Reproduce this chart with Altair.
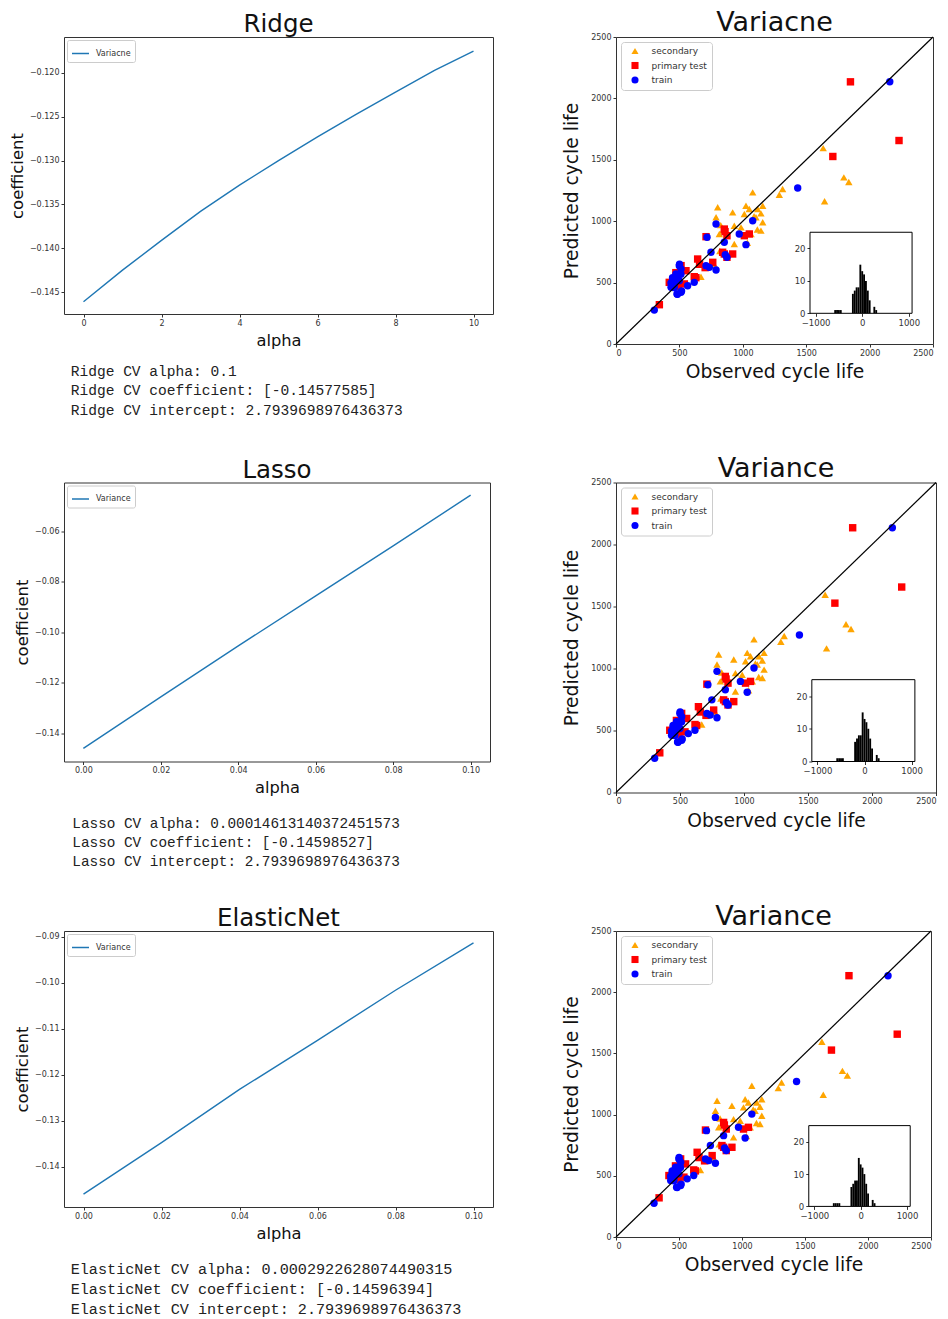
import altair as alt
import pandas as pd

# ---------------- line panels (coefficient vs alpha) ----------------
ridge_alpha = [0, 1, 2, 3, 4, 5, 6, 7, 8, 9, 10]
ridge_coef = [-0.1461, -0.1425, -0.1391, -0.1358, -0.1328, -0.1300, -0.1273, -0.1247, -0.1222,
              -0.1197, -0.1175]
lasso_alpha = [0.0, 0.02, 0.04, 0.06, 0.08, 0.10]
lasso_coef = [-0.1459, -0.1255, -0.1053, -0.0855, -0.0657, -0.0456]
enet_alpha = [0.0, 0.02, 0.04, 0.06, 0.08, 0.10]
enet_coef = [-0.1460, -0.1348, -0.1232, -0.1125, -0.1016, -0.0913]

ridge_ticks_x = [0, 2, 4, 6, 8, 10]
small_ticks_x = [0.0, 0.02, 0.04, 0.06, 0.08, 0.10]
ridge_ticks_y = [-0.145, -0.140, -0.135, -0.130, -0.125, -0.120]
lasso_ticks_y = [-0.14, -0.12, -0.10, -0.08, -0.06]
enet_ticks_y = [-0.14, -0.13, -0.12, -0.11, -0.10, -0.09]

ridge_text = ["Ridge CV alpha: 0.1",
              "Ridge CV coefficient: [-0.14577585]",
              "Ridge CV intercept: 2.7939698976436373"]
lasso_text = ["Lasso CV alpha: 0.00014613140372451573",
              "Lasso CV coefficient: [-0.14598527]",
              "Lasso CV intercept: 2.7939698976436373"]
enet_text = ["ElasticNet CV alpha: 0.0002922628074490315",
             "ElasticNet CV coefficient: [-0.14596394]",
             "ElasticNet CV intercept: 2.7939698976436373"]

# ---------------- scatter (observed vs predicted cycle life) ----------------
groups = ["secondary", "primary test", "train"]
group_colors = ["orange", "#ff0000", "#0000ff"]
group_shapes = ["triangle-up", "square", "circle"]

secondary_obs = [1634, 1645, 1797, 1836, 1314, 1288, 1078, 802, 789, 920, 1025, 1051, 1012, 1117,
                 1157, 1143, 1104, 1157, 933, 986, 841, 815, 1065, 1143, 933, 1036, 819, 774, 670,
                 826, 1089, 1115]
secondary_pred = [1595, 1162, 1357, 1319, 1262, 1216, 1235, 1113, 1032, 1072, 1126, 1099, 1059, 1099,
                  1126, 1064, 1032, 991, 963, 950, 923, 896, 896, 923, 814, 824, 757, 649, 548,
                  968, 1041, 932]
primary_obs = [1849, 2232, 1710, 342, 710, 854, 875, 1051, 1012, 920, 854, 875, 644, 763, 841, 659,
               703, 617, 552, 513, 420, 539, 491, 472, 630, 860]
primary_pred = [2135, 1657, 1527, 320, 874, 936, 882, 896, 882, 733, 733, 706, 692, 665, 747, 649,
                622, 548, 597, 638, 502, 489, 470, 581, 540, 915]
train_obs = [2159, 1433, 302, 789, 718, 854, 972, 1025, 1078, 749, 862, 875, 710, 736, 789, 499,
             513, 473, 447, 434, 460, 499, 565, 617, 481, 513, 434, 483, 459, 512, 501, 446, 485, 517]
train_pred = [2135, 1270, 276, 977, 869, 828, 896, 809, 1004, 747, 727, 706, 638, 624, 603, 638,
              611, 570, 529, 497, 489, 516, 475, 502, 407, 421, 462, 540, 459, 568, 649, 540, 405, 432]

axis_ticks_cycle = [0, 500, 1000, 1500, 2000, 2500]
diag_vals = [0, 2500]

# ---------------- inset histogram of residuals ----------------
hist_lo = [-600, -560, -520, -480, -220, -180, -140, -100, -60, -20, 20, 60, 100, 140, 240, 280]
hist_hi = [-560, -520, -480, -440, -180, -140, -100, -60, -20, 20, 60, 100, 140, 180, 280, 320]
hist_count = [1, 1, 1, 1, 6, 7, 8, 8, 15, 13, 12, 10, 7, 4, 2, 1]
inset_xdom = [-1120, 1070]
inset_ydom = [0, 25]
inset_xticks = [-1000, 0, 1000]
inset_yticks = [0, 10, 20]

# ---------------- tables ----------------
scatter_df = pd.concat([
    pd.DataFrame({"obs": secondary_obs, "pred": secondary_pred, "group": groups[0]}),
    pd.DataFrame({"obs": primary_obs, "pred": primary_pred, "group": groups[1]}),
    pd.DataFrame({"obs": train_obs, "pred": train_pred, "group": groups[2]}),
], ignore_index=True)
diag_df = pd.DataFrame({"obs": diag_vals, "pred": diag_vals})
hist_df = pd.DataFrame({"lo": hist_lo, "hi": hist_hi, "cnt": hist_count, "base": [0] * len(hist_lo)})
frame_df = pd.DataFrame({"lo": [inset_xdom[0]], "hi": [inset_xdom[1]],
                         "cnt": [inset_ydom[1]], "base": [inset_ydom[0]]})

FONT = "DejaVu Sans"
INK = "#333333"

rows = [
    dict(title="Ridge", series="Variacne", alphas=ridge_alpha, coefs=ridge_coef,
         xdom=[-0.5, 10.5], xticks=ridge_ticks_x, xfmt="d",
         ydom=[-0.1475, -0.1159], yticks=ridge_ticks_y, yfmt=".3f",
         lw=429, lh=277, texts=ridge_text, tx=6.7, ty=334.5, tstep=19.5, tfs=14.57,
         stitle="Variacne", sw=317, sh=307),
    dict(title="Lasso", series="Variance", alphas=lasso_alpha, coefs=lasso_coef,
         xdom=[-0.005, 0.105], xticks=small_ticks_x, xfmt=".2f",
         ydom=[-0.1511, -0.0406], yticks=lasso_ticks_y, yfmt=".2f",
         lw=426, lh=279, texts=lasso_text, tx=8.3, ty=341.3, tstep=19.2, tfs=14.37,
         stitle="Variance", sw=320, sh=310),
    dict(title="ElasticNet", series="Variance", alphas=enet_alpha, coefs=enet_coef,
         xdom=[-0.005, 0.105], xticks=small_ticks_x, xfmt=".2f",
         ydom=[-0.1488, -0.0887], yticks=enet_ticks_y, yfmt=".2f",
         lw=429, lh=276, texts=enet_text, tx=6.7, ty=337.5, tstep=20, tfs=15.15,
         stitle="Variance", sw=315, sh=306),
]


def line_panel(cfg):
    df = pd.DataFrame({"alpha": cfg["alphas"], "coef": cfg["coefs"],
                       "series": [cfg["series"]] * len(cfg["alphas"])})
    tdf = pd.DataFrame({"i": list(range(len(cfg["texts"]))), "txt": cfg["texts"]})
    line = alt.Chart(df).mark_line(strokeWidth=1.4).encode(
        x=alt.X("alpha:Q", scale=alt.Scale(domain=cfg["xdom"], nice=False, zero=False),
                axis=alt.Axis(values=cfg["xticks"], format=cfg["xfmt"], title="alpha",
                              labelFontSize=8, titleFontSize=16.3, titlePadding=5)),
        y=alt.Y("coef:Q", scale=alt.Scale(domain=cfg["ydom"], nice=False, zero=False),
                axis=alt.Axis(values=cfg["yticks"], format=cfg["yfmt"], title="coefficient",
                              labelFontSize=8, titleFontSize=16.5, titlePadding=4)),
        color=alt.Color("series:N", scale=alt.Scale(domain=[cfg["series"]], range=["#1f77b4"]),
                        legend=alt.Legend(title=None, orient="top-left", offset=3, padding=4,
                                          symbolType="stroke", symbolSize=289, symbolStrokeWidth=1.5,
                                          labelFontSize=8, labelOffset=6, labelColor=INK,
                                          strokeColor="#cccccc", fillColor="white", cornerRadius=2)),
    )
    text = alt.Chart(tdf).mark_text(align="left", baseline="middle", font="Liberation Mono",
                                    fontSize=cfg["tfs"], color="#222222").encode(
        x=alt.value(cfg["tx"]),
        y=alt.Y("i:Q", scale=alt.Scale(domain=[0, 2], range=[cfg["ty"], cfg["ty"] + 2 * cfg["tstep"]]),
                axis=None),
        text="txt:N",
    )
    return alt.layer(line, text).resolve_scale(y="independent").properties(
        width=cfg["lw"], height=cfg["lh"],
        title=alt.Title(cfg["title"], fontSize=24.5, offset=-0.6))


def scatter_panel(cfg):
    w, h = cfg["sw"], cfg["sh"]
    leg = alt.Legend(title=None, orient="top-left", offset=5, padding=4.5, symbolSize=50,
                     symbolOffset=5, labelOffset=12, labelFontSize=9, labelColor=INK, rowPadding=4.5,
                     strokeColor="#cccccc", fillColor="white", cornerRadius=3)
    pts = alt.Chart(scatter_df).mark_point(filled=True, opacity=1, size=55).encode(
        x=alt.X("obs:Q", scale=alt.Scale(domain=[0, 2500], nice=False, zero=False),
                axis=alt.Axis(values=axis_ticks_cycle, format="d", title="Observed cycle life",
                              labelFontSize=8, titleFontSize=18.7, titlePadding=5.5)),
        y=alt.Y("pred:Q", scale=alt.Scale(domain=[0, 2500], nice=False, zero=False),
                axis=alt.Axis(values=axis_ticks_cycle, format="d", title="Predicted cycle life",
                              labelFontSize=8, titleFontSize=18.7, titlePadding=9)),
        color=alt.Color("group:N", scale=alt.Scale(domain=groups, range=group_colors), legend=leg),
        shape=alt.Shape("group:N", scale=alt.Scale(domain=groups, range=group_shapes), legend=leg),
    )
    diag = alt.Chart(diag_df).mark_line(color="black", strokeWidth=1.2).encode(
        x="obs:Q", y="pred:Q")
    x0, x1 = 0.612 * w, 0.934 * w
    y0, y1 = 0.636 * h, 0.900 * h
    frame = alt.Chart(frame_df).mark_rect(fill="white", stroke="black", strokeWidth=1).encode(
        x=alt.X("lo:Q", scale=alt.Scale(domain=inset_xdom, range=[x0, x1], nice=False, zero=False),
                axis=alt.Axis(orient="bottom", offset=-(h - y1), values=inset_xticks, format="d",
                              title=None, labelFontSize=8.5, domain=False)),
        x2="hi:Q",
        y=alt.Y("cnt:Q", scale=alt.Scale(domain=inset_ydom, range=[y1, y0], nice=False, zero=False),
                axis=alt.Axis(orient="left", offset=-x0, values=inset_yticks, format="d", title=None,
                              labelFontSize=8.5, domain=False)),
        y2="base:Q",
    )
    bars = alt.Chart(hist_df).mark_rect(color="black").encode(
        x="lo:Q", x2="hi:Q", y="cnt:Q", y2="base:Q")
    main = alt.layer(pts, diag)
    inset = alt.layer(frame, bars)
    return alt.layer(main, inset).resolve_scale(x="independent", y="independent").properties(
        width=w, height=h,
        title=alt.Title(cfg["stitle"], fontSize=27, offset=-4))


cells = []
for cfg in rows:
    cells.append(line_panel(cfg))
    cells.append(scatter_panel(cfg))

chart = alt.concat(*cells, columns=2, spacing={"row": 138.5, "column": 123}, bounds="flush").resolve_scale(
    color="independent", shape="independent"
).resolve_legend(
    color="independent", shape="independent"
).properties(
    padding={"left": 0, "top": 0, "right": 0, "bottom": 0}
).configure_view(
    stroke=INK, strokeWidth=1
).configure_axis(
    grid=False, domain=False, tickColor=INK, tickSize=3, labelColor=INK, labelFont=FONT,
    titleFont=FONT, titleFontWeight="normal", titleColor="#111111", labelPadding=2
).configure_title(
    font=FONT, fontWeight="normal", color="#111111", anchor="middle"
).configure_legend(
    labelFont=FONT
)

chart.save("out.html", embed_options={"renderer": "svg", "actions": False})
